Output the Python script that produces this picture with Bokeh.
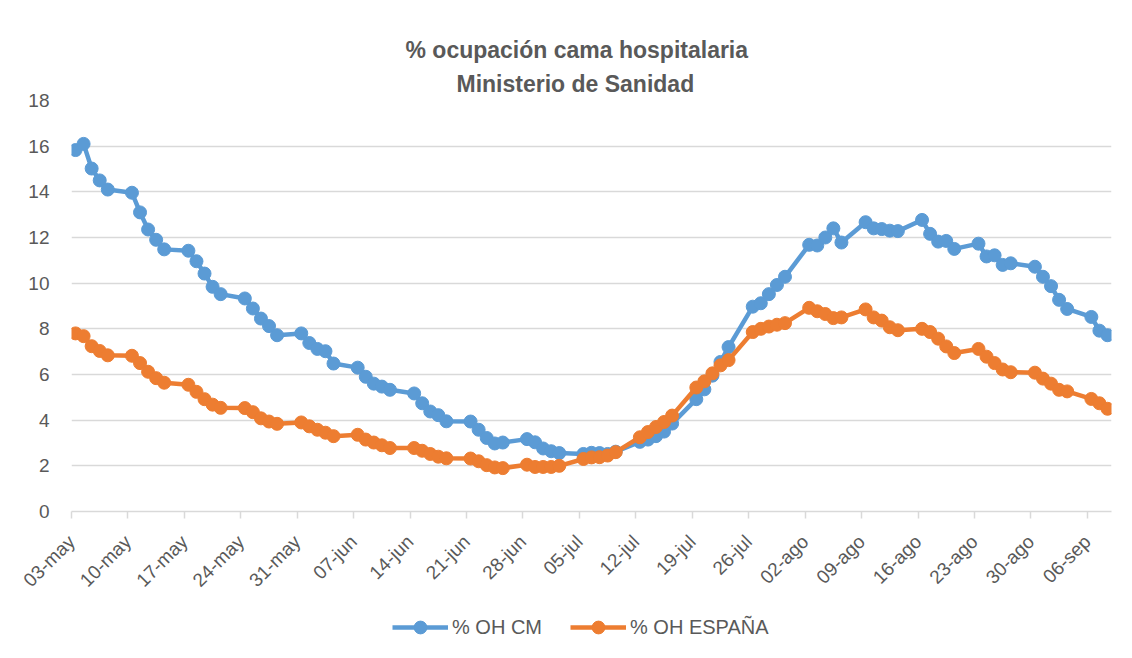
import math
import pandas as pd
from bokeh.plotting import figure
from bokeh.layouts import column
from bokeh.models import FixedTicker, Legend, LegendItem, Title, ColumnDataSource
from bokeh.embed import file_html
from bokeh.resources import INLINE

# ---------------- data ----------------
start_date = "2020-05-03"
end_date = "2020-09-08"
# reported days: Sunday..Thursday of each week
dates = pd.bdate_range(start_date, end_date, freq="C", weekmask="Sun Mon Tue Wed Thu")

oh_cm = [
    15.83, 16.10, 15.02, 14.50, 14.10,
    13.96, 13.10, 12.35, 11.90, 11.48,
    11.42, 10.96, 10.42, 9.84, 9.52,
    9.33, 8.89, 8.45, 8.12, 7.72,
    7.80, 7.38, 7.12, 7.02, 6.48,
    6.30, 5.90, 5.60, 5.47, 5.33,
    5.17, 4.74, 4.38, 4.22, 3.95,
    3.94, 3.58, 3.22, 2.98, 3.02,
    3.17, 3.03, 2.76, 2.64, 2.56,
    2.52, 2.57, 2.56, 2.52, 2.62,
    3.05, 3.15, 3.30, 3.50, 3.85,
    4.92, 5.35, 5.95, 6.55, 7.20,
    8.97, 9.12, 9.52, 9.92, 10.28,
    11.68, 11.65, 12.00, 12.40, 11.78,
    12.67, 12.40, 12.37, 12.30, 12.28,
    12.77, 12.16, 11.82, 11.85, 11.50,
    11.73, 11.17, 11.22, 10.80, 10.87,
    10.72, 10.28, 9.87, 9.27, 8.87,
    8.52, 7.92, 7.72,
]

oh_espana = [
    7.80, 7.68, 7.24, 7.03, 6.84,
    6.82, 6.50, 6.12, 5.84, 5.64,
    5.55, 5.24, 4.92, 4.68, 4.54,
    4.53, 4.35, 4.08, 3.94, 3.84,
    3.90, 3.73, 3.58, 3.45, 3.30,
    3.36, 3.15, 3.02, 2.90, 2.78,
    2.78, 2.66, 2.52, 2.40, 2.33,
    2.32, 2.20, 2.03, 1.93, 1.90,
    2.05, 1.95, 1.95, 1.95, 2.00,
    2.30, 2.37, 2.38, 2.45, 2.60,
    3.25, 3.48, 3.70, 3.92, 4.20,
    5.43, 5.70, 6.05, 6.40, 6.63,
    7.86, 8.00, 8.10, 8.18, 8.25,
    8.92, 8.77, 8.65, 8.47, 8.50,
    8.85, 8.50, 8.36, 8.07, 7.94,
    8.00, 7.86, 7.57, 7.23, 6.94,
    7.12, 6.78, 6.50, 6.22, 6.10,
    6.08, 5.82, 5.60, 5.33, 5.26,
    4.93, 4.74, 4.50,
]

tick_labels = ["03-may", "10-may", "17-may", "24-may", "31-may", "07-jun", "14-jun",
               "21-jun", "28-jun", "05-jul", "12-jul", "19-jul", "26-jul", "02-ago",
               "09-ago", "16-ago", "23-ago", "30-ago", "06-sep"]
y_ticks = [0, 2, 4, 6, 8, 10, 12, 14, 16, 18]

series_names = ["% OH CM", "% OH ESPAÑA"]
title_lines = ["% ocupación cama hospitalaria", "Ministerio de Sanidad"]

# ---------------- build ----------------
t0 = pd.Timestamp(start_date)
# date axis: each day is a slot, the point sits at the slot centre
day_x = [(d - t0).days + 0.5 for d in dates]
n_days = (pd.Timestamp(end_date) - t0).days + 1
tick_pos = [i * 7 for i in range(len(tick_labels))]

src = ColumnDataSource(dict(x=day_x, cm=oh_cm, es=oh_espana))

BLUE = "#5B9BD5"
ORANGE = "#ED7D31"
TXT = "#595959"
GRID = "#D9D9D9"
FONT = "Liberation Sans"

p = figure(frame_width=1040, frame_height=411,
           x_range=(0, n_days), y_range=(0, 18),
           output_backend="svg", toolbar_location=None,
           min_border_left=71, min_border_right=13, min_border_top=100,
           min_border_bottom=96)
p.background_fill_color = "white"
p.border_fill_color = "white"
p.outline_line_color = None

# titles (added nearest first)
t2 = Title(text=title_lines[1], align="left", text_font=FONT, text_font_size="23px",
           text_font_style="bold", text_color=TXT, offset=385, standoff=8)
t1 = Title(text=title_lines[0], align="left", text_font=FONT, text_font_size="23px",
           text_font_style="bold", text_color=TXT, offset=334, standoff=4)
p.add_layout(t2, "above")
p.add_layout(t1, "above")

# axes
xa = p.xaxis[0]
xa.ticker = FixedTicker(ticks=tick_pos)
xa.major_label_overrides = {t: lab for t, lab in zip(tick_pos, tick_labels)}
xa.major_label_orientation = math.pi / 4
xa.major_label_text_font = FONT
xa.major_label_text_font_size = "19px"
xa.major_label_text_color = TXT
xa.axis_line_color = GRID
xa.axis_line_width = 1.5
xa.major_tick_line_color = GRID
xa.major_tick_line_width = 1.5
xa.major_tick_in = 0
xa.major_tick_out = 7
xa.minor_tick_line_color = None
xa.major_label_standoff = 20

ya = p.yaxis[0]
ya.ticker = FixedTicker(ticks=y_ticks)
ya.major_label_text_font = FONT
ya.major_label_text_font_size = "19px"
ya.major_label_text_color = TXT
ya.axis_line_color = None
ya.major_tick_line_color = None
ya.minor_tick_line_color = None
ya.major_label_standoff = 16

p.xgrid.grid_line_color = None
p.ygrid.grid_line_color = GRID
p.ygrid.grid_line_width = 1.5

# series
p.line("x", "cm", source=src, line_color=BLUE, line_width=4.5, line_join="round")
p.scatter("x", "cm", source=src, size=13, fill_color=BLUE, line_color=BLUE)
p.line("x", "es", source=src, line_color=ORANGE, line_width=4.5, line_join="round")
p.scatter("x", "es", source=src, size=13, fill_color=ORANGE, line_color=ORANGE)

# legend strip below the chart (its renderers share the data but lie outside its view)
lg = figure(width=1124, height=42, output_backend="svg", toolbar_location=None,
            x_axis_type=None, y_axis_type=None,
            x_range=(0, 1), y_range=(-100, -99),
            min_border_left=0, min_border_right=0, min_border_top=0, min_border_bottom=0)
lg.grid.visible = False
lg.outline_line_color = None
lg.background_fill_color = "white"
lg.border_fill_color = "white"
bl = lg.line("x", "cm", source=src, line_color=BLUE, line_width=4.5)
bs = lg.scatter("x", "cm", source=src, size=13, fill_color=BLUE, line_color=BLUE)
ol = lg.line("x", "es", source=src, line_color=ORANGE, line_width=4.5)
os_ = lg.scatter("x", "es", source=src, size=13, fill_color=ORANGE, line_color=ORANGE)

legend = Legend(items=[LegendItem(label=series_names[0], renderers=[bl, bs]),
                       LegendItem(label=series_names[1], renderers=[ol, os_])],
                orientation="horizontal", location=(321, 6),
                label_text_font=FONT, label_text_font_size="20px",
                label_text_color=TXT, glyph_width=56, glyph_height=32,
                label_standoff=4, spacing=28, padding=2, margin=0,
                border_line_color=None, background_fill_alpha=0)
lg.add_layout(legend, "center")

open("out.html", "w").write(file_html(column(p, lg), INLINE))
